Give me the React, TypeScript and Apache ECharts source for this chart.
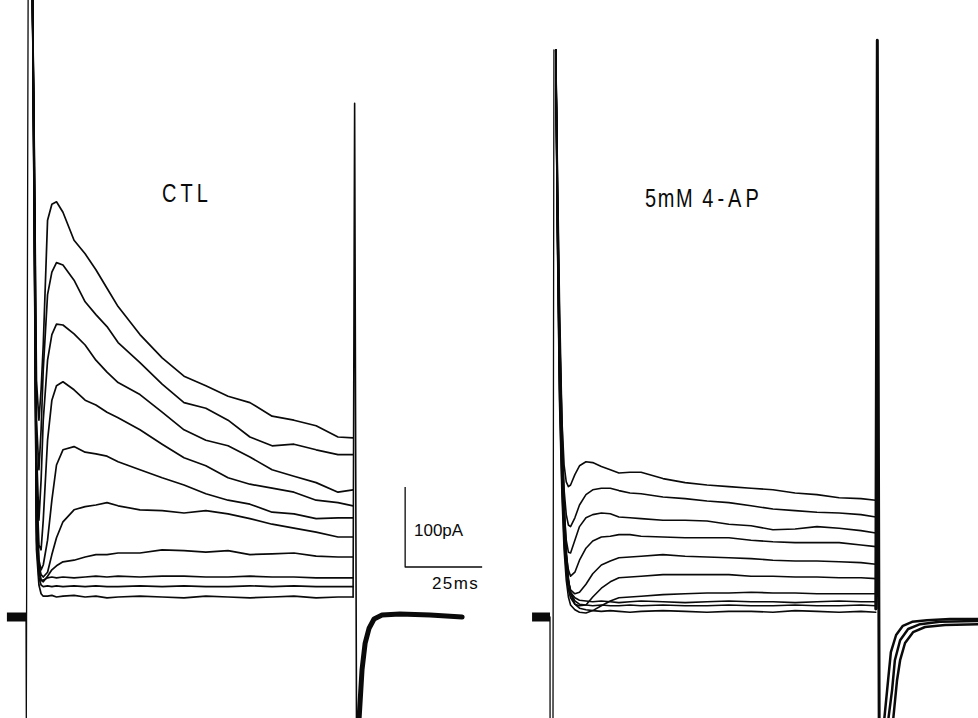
import React, { useEffect, useRef } from "react";
import * as echarts from "echarts";

// ---------- data (time in ms from step onset, current in pA above holding) ----------
const ctlTime = [0.8, 1.4, 2.1, 2.9, 3.6, 4.3, 5.7, 7.1, 8.6, 10.7, 14.3, 17.9, 21.4, 25, 28.6, 35.7, 42.9, 50, 57.1, 64.3, 71.4, 78.6, 85.7, 92.9, 100, 104.9];
const ctl1 = [780, 584, 296, 246, 284, 340, 496, 516, 519, 506, 471, 454, 434, 411, 388, 353, 324, 301, 289, 276, 268, 251, 246, 239, 225, 224];
const ctl2 = [780, 571, 246, 184, 234, 309, 403, 431, 443, 440, 421, 394, 378, 363, 343, 318, 291, 268, 261, 246, 225, 214, 216, 209, 203, 203];
const ctl3 = [780, 559, 209, 121, 171, 246, 321, 353, 366, 365, 354, 340, 321, 306, 293, 278, 256, 234, 221, 214, 200, 184, 176, 168, 156, 159];
const ctl4 = [780, 546, 171, 90, 84, 121, 221, 271, 289, 294, 284, 271, 265, 256, 249, 234, 216, 199, 189, 174, 166, 161, 156, 146, 143, 139];
const ctl5 = [780, 534, 146, 71, 59, 65, 96, 146, 190, 209, 213, 206, 204, 201, 194, 184, 174, 165, 154, 146, 141, 131, 129, 123, 124, 124];
const ctl6 = [780, 521, 134, 65, 53, 50, 56, 78, 99, 119, 134, 138, 140, 143, 139, 134, 133, 130, 133, 129, 123, 116, 111, 106, 100, 100];
const ctl7 = [780, 509, 121, 59, 46, 44, 51, 59, 64, 69, 71, 75, 78, 78, 80, 80, 84, 83, 81, 83, 78, 79, 80, 76, 75, 75];
const ctl8 = [780, 496, 109, 56, 46, 46, 49, 50, 49, 50, 49, 50, 51, 50, 51, 50, 51, 51, 50, 50, 51, 50, 50, 49, 49, 49];
const ctl9 = [780, 484, 96, 49, 40, 38, 39, 38, 39, 38, 39, 38, 39, 38, 38, 39, 38, 39, 38, 38, 39, 38, 39, 38, 38, 38];
const ctl10 = [780, 471, 84, 40, 29, 26, 26, 27, 25, 26, 27, 25, 26, 24, 25, 26, 25, 24, 26, 25, 24, 25, 26, 24, 25, 25];

const ctlHoldTime = [-7.5, -1.3];
const ctlHold = [0, 0];
const ctlOnTime = [-1.3, -1.2, -0.6];
const ctlOn = [0, -130, 790];
const ctlOffTime = [104.9, 105.4, 106];
const ctlOff = [25, 642, -130];
const ctlTailTime = [106.8, 107.8, 108.8, 110.1, 111.7, 114.3, 120.1, 129.9, 140.3];
const ctlTail = [-130, -66, -33, -14, -2.5, 2.5, 3.8, 2.5, 0];

const apTime = [0.9, 1.4, 2.1, 2.9, 3.6, 4.3, 5, 5.7, 7.1, 8.6, 10.7, 12.9, 15.7, 18.6, 21.4, 25, 28.6, 35.7, 42.9, 50, 57.1, 64.3, 71.4, 78.6, 85.7, 92.9, 100, 104.8];
const ap1 = [709, 534, 359, 246, 190, 169, 163, 165, 178, 189, 194, 193, 188, 184, 180, 181, 181, 173, 168, 165, 163, 161, 159, 155, 153, 149, 148, 146];
const ap2 = [709, 521, 340, 221, 159, 128, 115, 113, 124, 140, 153, 159, 161, 161, 158, 155, 154, 150, 148, 145, 143, 139, 135, 133, 131, 130, 128, 125];
const ap3 = [709, 509, 321, 203, 134, 96, 81, 80, 96, 113, 124, 128, 130, 129, 125, 124, 123, 121, 121, 120, 116, 114, 109, 110, 113, 111, 108, 105];
const ap4 = [709, 503, 309, 190, 121, 78, 59, 51, 56, 71, 86, 95, 100, 101, 103, 103, 101, 100, 99, 99, 99, 96, 94, 93, 93, 93, 90, 88];
const ap5 = [709, 496, 296, 178, 109, 65, 44, 34, 29, 31, 41, 54, 65, 70, 74, 75, 76, 78, 76, 75, 74, 73, 71, 70, 70, 69, 68, 66];
const ap6 = [709, 490, 284, 165, 96, 56, 34, 24, 16, 14, 15, 25, 36, 44, 49, 50, 51, 53, 53, 53, 53, 51, 51, 50, 50, 49, 49, 48];
const ap7 = [709, 484, 271, 153, 84, 46, 25, 15, 9, 6, 5, 8, 14, 20, 24, 25, 26, 28, 29, 30, 30, 31, 30, 30, 29, 29, 29, 29];
const ap8 = [709, 546, 346, 209, 121, 71, 44, 31, 24, 21, 20, 19, 20, 19, 18, 19, 20, 19, 18, 19, 20, 19, 19, 18, 19, 20, 19, 19];
const ap9 = [709, 559, 371, 234, 134, 78, 46, 30, 20, 16, 15, 14, 15, 14, 14, 15, 14, 15, 14, 14, 15, 14, 14, 15, 14, 14, 15, 14];
const ap10 = [709, 571, 396, 246, 146, 84, 49, 29, 16, 11, 9, 8, 7, 8, 7, 6, 7, 8, 7, 6, 7, 7, 6, 8, 7, 6, 7, 6];

const apHoldTime = [-6.8, -0.97];
const apHold = [0, 0];
const apOnTime = [-0.97, -0.95, 0, 0.3];
const apOn = [0, -130, -130, 709];
const apOffTime = [104.8, 105.3, 105.9];
const apOff = [10, 721, -130];
const apTailATime = [107.5, 108.8, 109.7, 111.4, 113.6, 116.6, 121.4, 128.9, 138];
const apTailA = [-130, -79, -44, -22.5, -11, -6, -4, -2.5, -2.5];
const apTailBTime = [108.8, 110.1, 111, 112.7, 115.3, 119.2, 125.6, 138];
const apTailB = [-130, -91, -54, -29, -15, -9, -6, -5];
const apTailCTime = [110.4, 111.7, 112.7, 114.3, 116.9, 120.8, 127.3, 138];
const apTailC = [-130, -79, -54, -32.5, -19, -12.5, -10, -9];

const SCALE_MS = 25;
const SCALE_PA = 100;
const labels = { ctl: "C\u2009T\u2009L", ap: "5\u200am\u200aM\u2009 4\u2009-\u2009A\u2009P", pa: "100pA", ms: "2\u200a5\u200am\u200as" };

// ---------- layout ----------
const W = 978;
const H = 718;
const PX_PER_MS = 3.08;
const PX_PER_PA = 0.8;
const BASE_Y = 617;
const CTL_X0 = 30;
const AP_X0 = 553;
const BAR_T0 = 121.8; // ms, in CTL panel frame
const BAR_I0 = 62.5; // pA

const zip = (t: number[], v: number[]) => t.map((x, i) => [x, v[i]]);

export default function App() {
  const ref = useRef<HTMLDivElement>(null);
  useEffect(() => {
    if (!ref.current) return;
    const chart = echarts.init(ref.current, undefined, { renderer: "svg" });
    const yMin = -(H - BASE_Y) / PX_PER_PA;
    const yMax = BASE_Y / PX_PER_PA;
    const line = (xi: number, data: number[][], width: number, cap = "round") => ({
      type: "line",
      xAxisIndex: xi,
      yAxisIndex: xi,
      data,
      showSymbol: false,
      symbol: "none",
      smooth: false,
      silent: true,
      lineStyle: { color: "#0a0a0a", width, join: "round", cap },
    });
    const ctlTraces = [ctl1, ctl2, ctl3, ctl4, ctl5, ctl6, ctl7, ctl8, ctl9, ctl10];
    const apTraces = [ap1, ap2, ap3, ap4, ap5, ap6, ap7, ap8, ap9, ap10];
    const series: any[] = [];
    ctlTraces.forEach((v) => series.push(line(0, zip(ctlTime, v), 1.7)));
    apTraces.forEach((v) => series.push(line(1, zip(apTime, v), 1.6)));
    series.push(line(0, zip(ctlHoldTime, ctlHold), 9, "butt"));
    series.push(line(0, zip(ctlOnTime, ctlOn), 1.3));
    series.push(line(0, zip(ctlOffTime, ctlOff), 1.6));
    series.push(line(0, zip(ctlTailTime, ctlTail), 5));
    series.push(line(1, zip(apHoldTime, apHold), 9, "butt"));
    series.push(line(1, zip(apOnTime, apOn), 1.3));
    series.push(line(1, zip(apOffTime, apOff), 3));
    series.push(line(1, zip(apTailATime, apTailA), 2.5));
    series.push(line(1, zip(apTailBTime, apTailB), 2.5));
    series.push(line(1, zip(apTailCTime, apTailC), 2.5));
    series.push(
      line(
        0,
        [
          [BAR_T0, BAR_I0 + SCALE_PA],
          [BAR_T0, BAR_I0],
          [BAR_T0 + SCALE_MS, BAR_I0],
        ],
        1.3,
        "butt"
      )
    );
    const font = "'Liberation Sans', Arial, Helvetica, sans-serif";
    chart.setOption({
      animation: false,
      backgroundColor: "#ffffff",
      grid: [
        { left: 0, top: 0, width: W, height: H, containLabel: false },
        { left: 0, top: 0, width: W, height: H, containLabel: false },
      ],
      xAxis: [
        { type: "value", gridIndex: 0, min: -CTL_X0 / PX_PER_MS, max: (W - CTL_X0) / PX_PER_MS, show: false },
        { type: "value", gridIndex: 1, min: -AP_X0 / PX_PER_MS, max: (W - AP_X0) / PX_PER_MS, show: false },
      ],
      yAxis: [
        { type: "value", gridIndex: 0, min: yMin, max: yMax, show: false },
        { type: "value", gridIndex: 1, min: yMin, max: yMax, show: false },
      ],
      series,
      graphic: [
        { type: "text", x: 162, y: 194, scaleX: 0.8, style: { text: labels.ctl, fontSize: 25, fontFamily: font, fill: "#0a0a0a", align: "left", verticalAlign: "middle" } },
        { type: "text", x: 645, y: 199, scaleX: 0.8, style: { text: labels.ap, fontSize: 25, fontFamily: font, fill: "#0a0a0a", align: "left", verticalAlign: "middle" } },
        { type: "text", x: 414, y: 530, style: { text: labels.pa, fontSize: 17, fontFamily: font, fill: "#0a0a0a", align: "left", verticalAlign: "middle" } },
        { type: "text", x: 432, y: 583, style: { text: labels.ms, fontSize: 17, fontFamily: font, fill: "#0a0a0a", align: "left", verticalAlign: "middle" } },
      ],
    });
    return () => chart.dispose();
  }, []);
  return <div ref={ref} style={{ position: "fixed", left: 0, top: 0, width: W, height: H, background: "#fff" }} />;
}
